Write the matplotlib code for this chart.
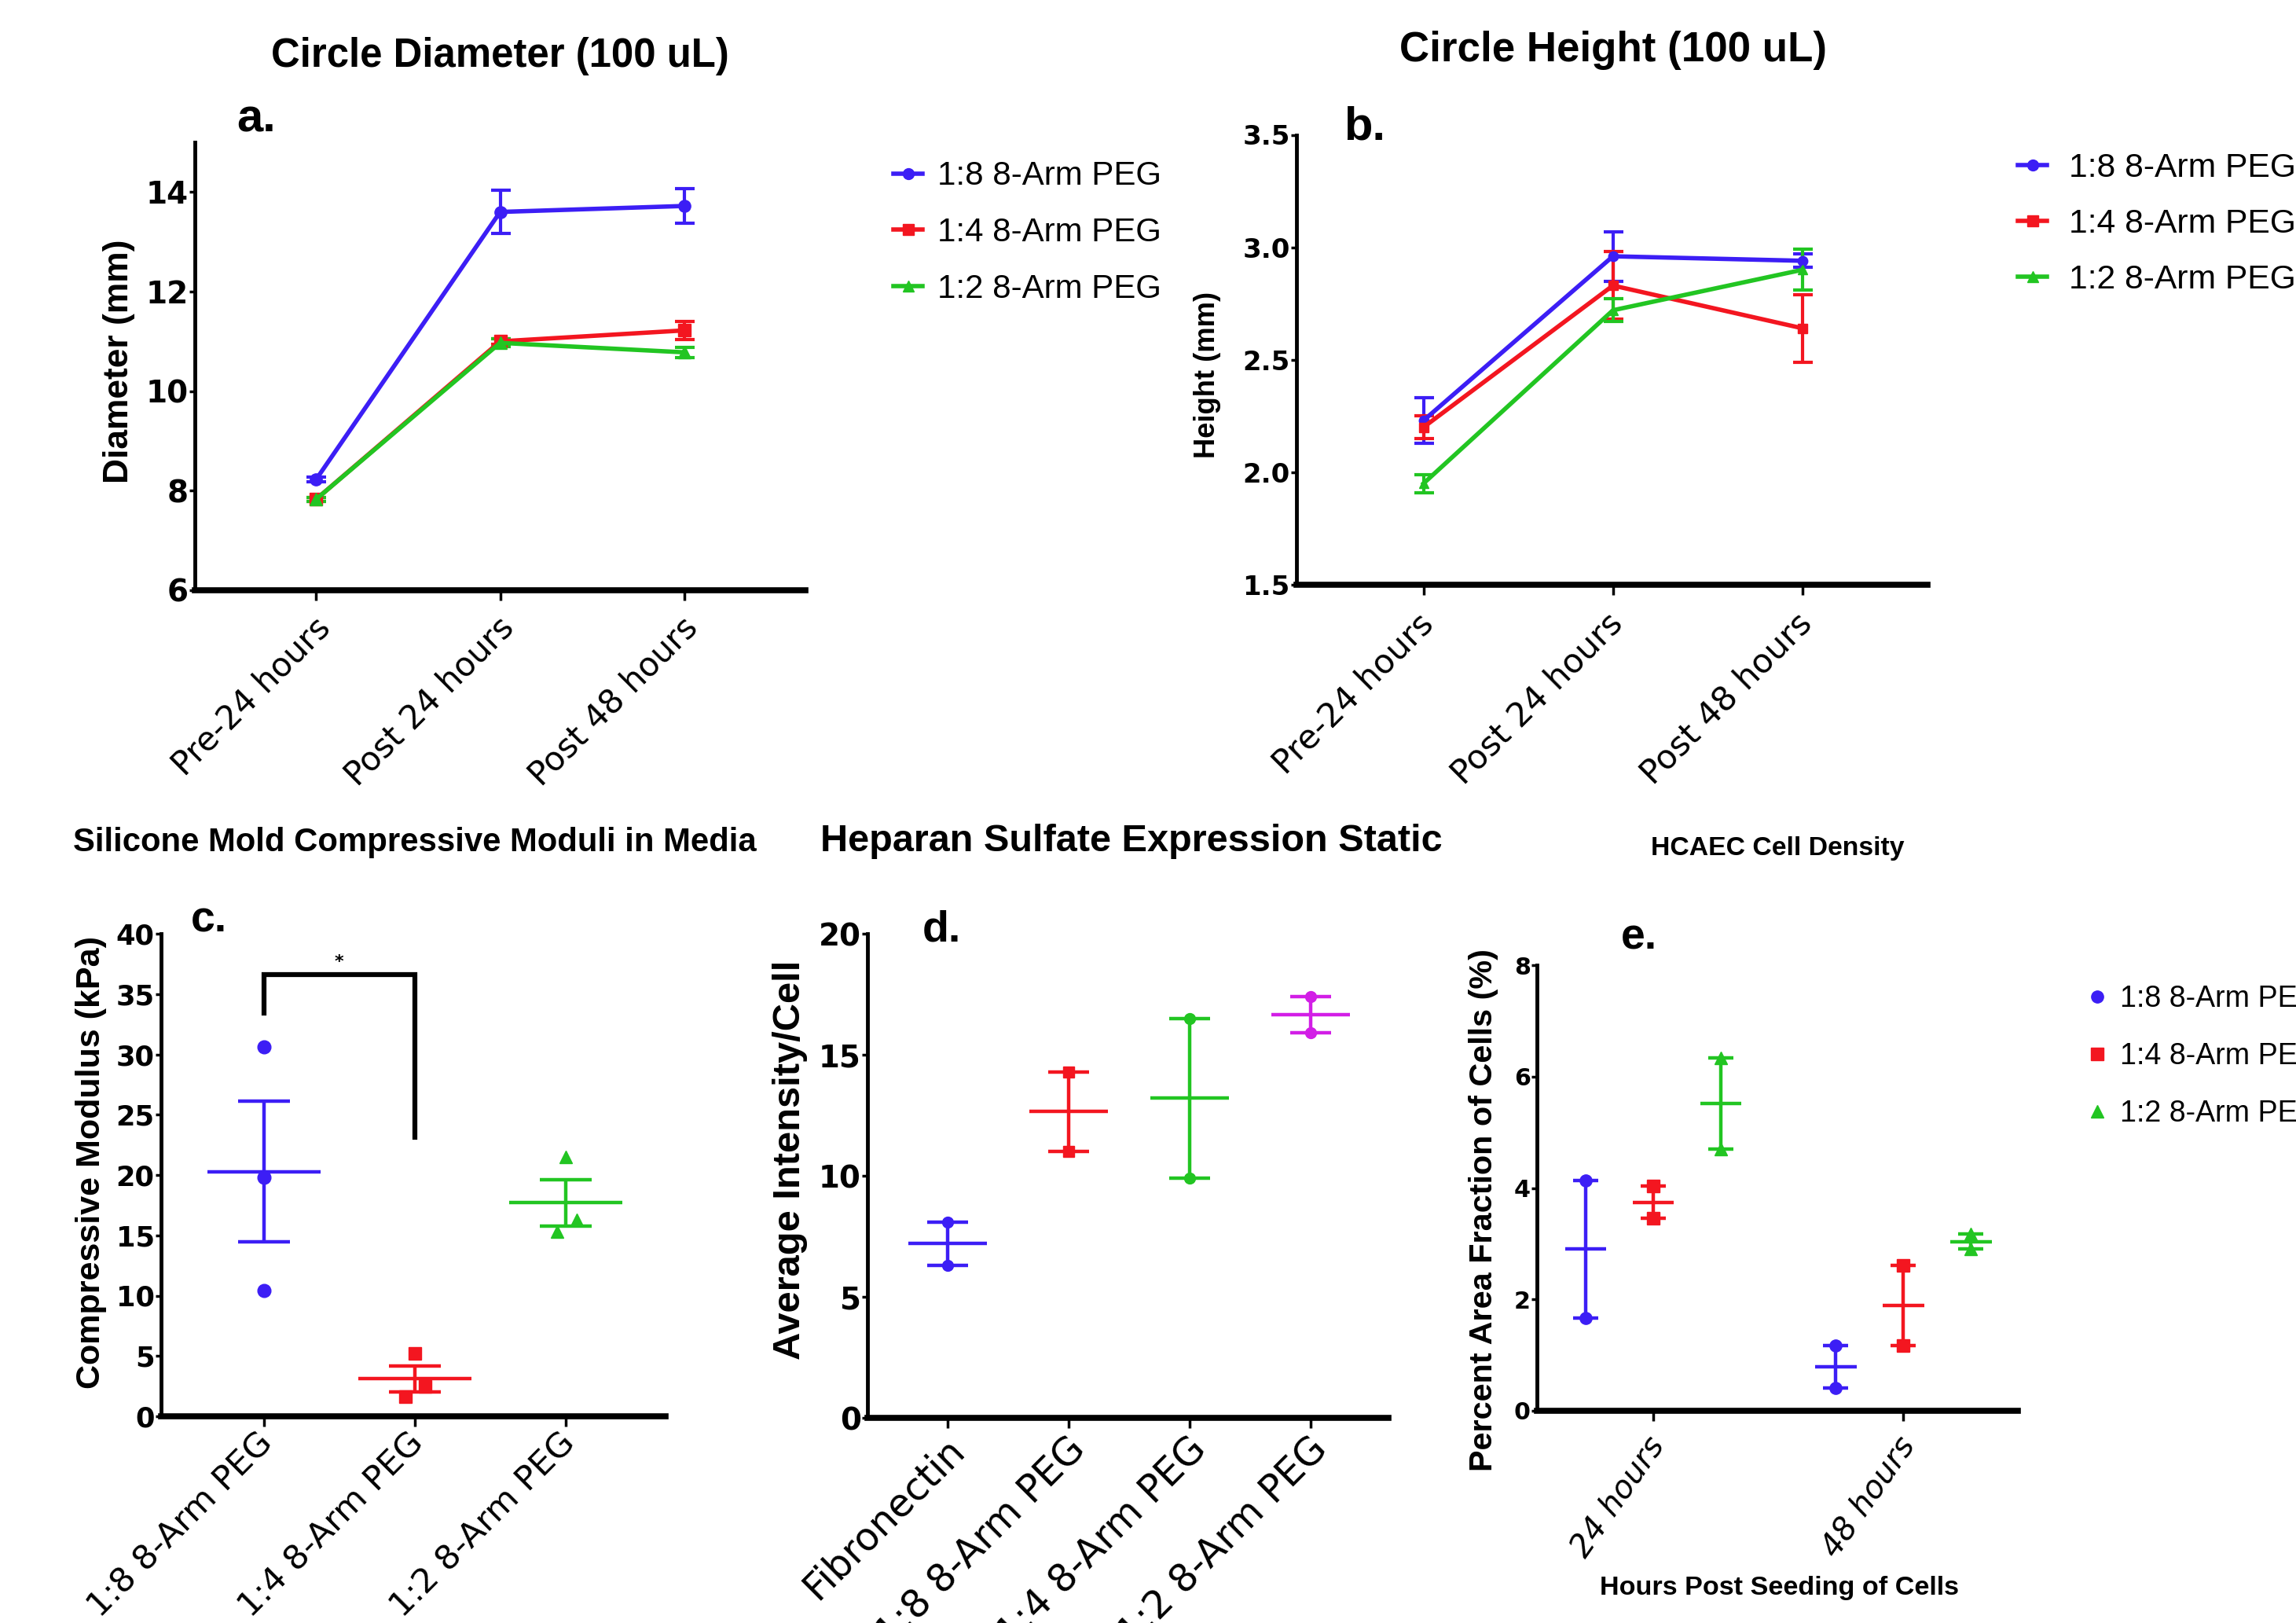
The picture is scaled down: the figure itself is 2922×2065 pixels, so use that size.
import matplotlib
matplotlib.use('Agg')
import matplotlib.pyplot as plt
from matplotlib.lines import Line2D
from matplotlib.transforms import ScaledTranslation

plt.rcParams['font.family'] = ['DejaVu Sans']

# ---------------- data ----------------
series_names = ['1:8 8-Arm PEG', '1:4 8-Arm PEG', '1:2 8-Arm PEG']
time_labels = ['Pre-24 hours', 'Post 24 hours', 'Post 48 hours']

# (a) circle diameter (mm), mean and SEM
diam_18 = [8.23, 13.60, 13.72]
diam_18_err = [0.05, 0.43, 0.35]
diam_14 = [7.83, 11.00, 11.22]
diam_14_err = [0.04, 0.06, 0.18]
diam_12 = [7.83, 10.97, 10.78]
diam_12_err = [0.04, 0.08, 0.10]

# (b) circle height (mm)
height_18 = [2.23, 2.96, 2.94]
height_18_err = [0.10, 0.11, 0.03]
height_14 = [2.20, 2.83, 2.64]
height_14_err = [0.05, 0.15, 0.15]
height_12 = [1.95, 2.72, 2.90]
height_12_err = [0.04, 0.05, 0.09]

# (c) compressive modulus (kPa), individual samples
comp_18 = [30.6, 19.8, 10.4]
comp_14 = [5.2, 2.5, 1.6]
comp_12 = [21.5, 16.3, 15.3]

# (d) heparan sulfate, average intensity / cell
hs_labels = ['Fibronectin', '1:8 8-Arm PEG', '1:4 8-Arm PEG', '1:2 8-Arm PEG']
hs_fibronectin = [8.1, 6.3]
hs_18 = [14.3, 11.0]
hs_14 = [16.5, 9.9]
hs_12 = [17.4, 15.9]

# (e) HCAEC cell density, percent area fraction
e_labels = ['24 hours', '48 hours']
dens_18_24, dens_18_48 = [4.13, 1.67], [1.17, 0.41]
dens_14_24, dens_14_48 = [4.03, 3.46], [2.61, 1.17]
dens_12_24, dens_12_48 = [6.33, 4.70], [3.18, 2.90]

# ---------------- figure ----------------
W, H, DPI = 2922, 2065, 100
fig = plt.figure(figsize=(W / DPI, H / DPI), dpi=DPI)
fig.patch.set_facecolor('white')
renderer = fig.canvas.get_renderer()

BLUE = '#3c1ef5'
RED = '#f31620'
GREEN = '#22c522'
MAG = '#d21ee6'
cols = [BLUE, RED, GREEN]
marks = ['o', 's', '^']

ARIAL = ['Liberation Sans', 'DejaVu Sans']


def fit(s, target_px, **kw):
    t = fig.text(0, 0, s, fontsize=100, **kw)
    w = t.get_window_extent(renderer=renderer).width
    t.remove()
    return 100.0 * target_px / w


def rect(l, r, t, b):
    return [l / W, 1 - b / H, (r - l) / W, (b - t) / H]


def fx(x):
    return x / W


def fy(y):
    return 1 - y / H


def style(ax):
    for s in ('top', 'right'):
        ax.spines[s].set_visible(False)
    ax.spines['bottom'].set_linewidth(5.5)
    ax.spines['left'].set_linewidth(3.5)
    ax.tick_params(axis='y', length=5, width=2.5, pad=1)
    ax.tick_params(axis='x', width=2.5)


def xlabels(ax, labels, target, rot, dx_px, dy_px, ticklen=9, fstyle='normal'):
    size = fit(labels[0], target, fontstyle=fstyle)
    ax.set_xticks(range(len(labels)))
    ax.tick_params(axis='x', length=ticklen, pad=dy_px * 72 / DPI - ticklen)
    ax.set_xticklabels(labels, rotation=rot, ha='right', va='center',
                       rotation_mode='anchor', fontsize=size, fontstyle=fstyle)
    off = ScaledTranslation(dx_px / DPI, 0, fig.dpi_scale_trans)
    for lab in ax.get_xticklabels():
        lab.set_transform(lab.get_transform() + off)


def yticks(ax, ticks, labels, target_label, target_px):
    size = fit(target_label, target_px, fontweight='bold')
    ax.set_yticks(ticks)
    ax.set_yticklabels(labels, fontsize=size, fontweight='bold')


def ylabel(ax, text, target_px, cx, cy):
    size = fit(text, target_px, fontweight='bold', family=ARIAL)
    ax.set_ylabel(text, fontsize=size, fontweight='bold', family=ARIAL)
    ax.yaxis.set_label_coords(fx(cx), fy(cy), transform=fig.transFigure)
    ax.yaxis.label.set_va('center')


def title(text, target_px, cx, base_y):
    size = fit(text, target_px, fontweight='bold', family=ARIAL)
    fig.text(fx(cx), fy(base_y), text, fontsize=size, fontweight='bold',
             family=ARIAL, ha='center', va='baseline')


def letter(text, x, base_y, size):
    fig.text(fx(x), fy(base_y), text, fontsize=size, fontweight='bold',
             family=ARIAL, ha='left', va='baseline')


def legend(handles, labels, left_px, mid_y_px, handle_px, gap_px, target_px, pitch_px):
    fs = fit(labels[0], target_px, family=ARIAL)
    ppf = fs * DPI / 72.0
    fig.legend(handles, labels, loc='center left',
               bbox_to_anchor=(fx(left_px), fy(mid_y_px)),
               bbox_transform=fig.transFigure, frameon=False,
               prop={'size': fs, 'family': ARIAL},
               handlelength=handle_px / ppf, handletextpad=gap_px / ppf,
               borderpad=0, borderaxespad=0, labelspacing=pitch_px / ppf - 1.15)


# ---------------- (a) ----------------
ax = fig.add_axes(rect(248, 1025, 181, 751))
style(ax)
x3 = [0, 1, 2]
for vals, errs, c, m in zip([diam_18, diam_14, diam_12],
                            [diam_18_err, diam_14_err, diam_12_err], cols, marks):
    ax.errorbar(x3, vals, yerr=errs, color=c, marker=m, ms=11, lw=4,
                elinewidth=3, capsize=9, capthick=3)
ax.set_xlim(-0.66, 2.66)
ax.set_ylim(6, 15)
yticks(ax, [6, 8, 10, 12, 14], ['6', '8', '10', '12', '14'], '14', 54)
xlabels(ax, time_labels, 266, 45, 11, 41)
ylabel(ax, 'Diameter (mm)', 311, 152, 460)
title('Circle Diameter (100 uL)', 583, 636, 85)
letter('a.', 301, 168, 43)
legend([Line2D([], [], color=c, marker=m, lw=4, ms=10) for c, m in zip(cols, marks)],
       series_names, 1137, 296, 37, 19, 285, 80)

# ---------------- (b) ----------------
ax = fig.add_axes(rect(1650, 2453, 171.5, 744))
style(ax)
for vals, errs, c, m in zip([height_18, height_14, height_12],
                            [height_18_err, height_14_err, height_12_err], cols, marks):
    ax.errorbar(x3, vals, yerr=errs, color=c, marker=m, ms=9, lw=4,
                elinewidth=3, capsize=9, capthick=3)
ax.set_xlim(-0.67, 2.66)
ax.set_ylim(1.5, 3.5)
yticks(ax, [1.5, 2.0, 2.5, 3.0, 3.5], ['1.5', '2.0', '2.5', '3.0', '3.5'], '3.5', 60)
xlabels(ax, time_labels, 269, 45, 6, 43)
ylabel(ax, 'Height (mm)', 212, 1537, 477)
title('Circle Height (100 uL)', 544, 2053, 78)
letter('b.', 1710, 177, 43)
legend([Line2D([], [], color=c, marker=m, lw=4, ms=10) for c, m in zip(cols, marks)],
       series_names, 2568, 285, 37, 28, 289, 80)

# ---------------- (c) ----------------
ax = fig.add_axes(rect(205, 847, 1188, 1802))
style(ax)
c_jitter = [[0, 0, 0], [0, 0.07, -0.06], [0, 0.07, -0.06]]
for i, (vals, c, m) in enumerate(zip([comp_18, comp_14, comp_12], cols, marks)):
    xs = [i + j for j in c_jitter[i]]
    ax.plot(xs, vals, ls='none', marker=m, color=c, ms=12, mec=c)
    mean = sum(vals) / len(vals)
    sd = (sum((v - mean) ** 2 for v in vals) / (len(vals) - 1)) ** 0.5
    sem = sd / len(vals) ** 0.5
    ax.hlines(mean, i - 0.375, i + 0.375, color=c, lw=3.2)
    ax.errorbar(i, mean, yerr=sem, fmt='none', ecolor=c, elinewidth=3.2,
                capsize=23.5, capthick=3.2)
ax.plot([0, 0, 1, 1], [33.4, 36.6, 36.6, 23.1], color='black', lw=4.5,
        solid_joinstyle='miter')
ax.text(0.5, 37.0, '*', ha='center', va='bottom', fontsize=16, fontweight='bold')
ax.set_xlim(-0.68, 2.66)
ax.set_ylim(0, 40)
yticks(ax, list(range(0, 41, 5)), [str(v) for v in range(0, 41, 5)], '40', 49)
xlabels(ax, series_names, 313, 45, 5, 28)
ylabel(ax, 'Compressive Modulus (kPa)', 578, 116, 1479)
title('Silicone Mold Compressive Moduli in Media', 870, 528, 1083)
letter('c.', 243, 1186, 40)

# ---------------- (d) ----------------
ax = fig.add_axes(rect(1104, 1767, 1188, 1804))
style(ax)
d_cols = [BLUE, RED, GREEN, MAG]
d_marks = ['o', 's', 'o', 'o']
for i, (vals, c, m) in enumerate(zip([hs_fibronectin, hs_18, hs_14, hs_12], d_cols, d_marks)):
    ax.plot([i] * len(vals), vals, ls='none', marker=m, color=c, ms=10)
    mean = sum(vals) / len(vals)
    sem = abs(vals[0] - vals[1]) / 2
    ax.hlines(mean, i - 0.325, i + 0.325, color=c, lw=3.2)
    ax.errorbar(i, mean, yerr=sem, fmt='none', ecolor=c, elinewidth=3.2,
                capsize=19, capthick=3.2)
ax.set_xlim(-0.66, 3.64)
ax.set_ylim(0, 20)
yticks(ax, [0, 5, 10, 15, 20], ['0', '5', '10', '15', '20'], '20', 54)
xlabels(ax, hs_labels, 268, 45, 14, 33)
ylabel(ax, 'Average Intensity/Cell', 509, 1006, 1476)
title('Heparan Sulfate Expression Static', 792, 1440, 1083)
letter('d.', 1174, 1197, 40)

# ---------------- (e) ----------------
ax = fig.add_axes(rect(1956, 2568, 1228, 1795))
style(ax)
e_offsets = [-0.27, 0.0, 0.27]
e_data = [[dens_18_24, dens_18_48], [dens_14_24, dens_14_48], [dens_12_24, dens_12_48]]
for k, (groups, c, m) in enumerate(zip(e_data, cols, marks)):
    for g, vals in enumerate(groups):
        xpos = g + e_offsets[k]
        ax.plot([xpos] * len(vals), vals, ls='none', marker=m, color=c, ms=11)
        mean = sum(vals) / len(vals)
        sem = abs(vals[0] - vals[1]) / 2
        ax.hlines(mean, xpos - 0.082, xpos + 0.082, color=c, lw=3.2)
        ax.errorbar(xpos, mean, yerr=sem, fmt='none', ecolor=c, elinewidth=3.2,
                    capsize=11.5, capthick=3.2)
ax.set_xlim(-0.464, 1.457)
ax.set_ylim(0, 8)
yticks(ax, [0, 2, 4, 6, 8], ['0', '2', '4', '6', '8'], '8', 21)
xlabels(ax, e_labels, 177, 55, 6, 37, fstyle='italic')
ylabel(ax, 'Percent Area Fraction of Cells (%)', 666, 1888, 1540)
xl_size = fit('Hours Post Seeding of Cells', 458, fontweight='bold', family=ARIAL)
ax.set_xlabel('Hours Post Seeding of Cells', fontsize=xl_size, fontweight='bold',
              family=ARIAL)
ax.xaxis.set_label_coords(fx(2264), fy(2020), transform=fig.transFigure)
ax.xaxis.label.set_va('center')
title('HCAEC Cell Density', 323, 2262, 1088)
letter('e.', 2063, 1208, 40)
legend([Line2D([], [], color=c, marker=m, ls='none', ms=11) for c, m in zip(cols, marks)],
       series_names, 2659, 1344, 20, 19, 255, 80)

fig.savefig('out.png', dpi=DPI, facecolor='white')
